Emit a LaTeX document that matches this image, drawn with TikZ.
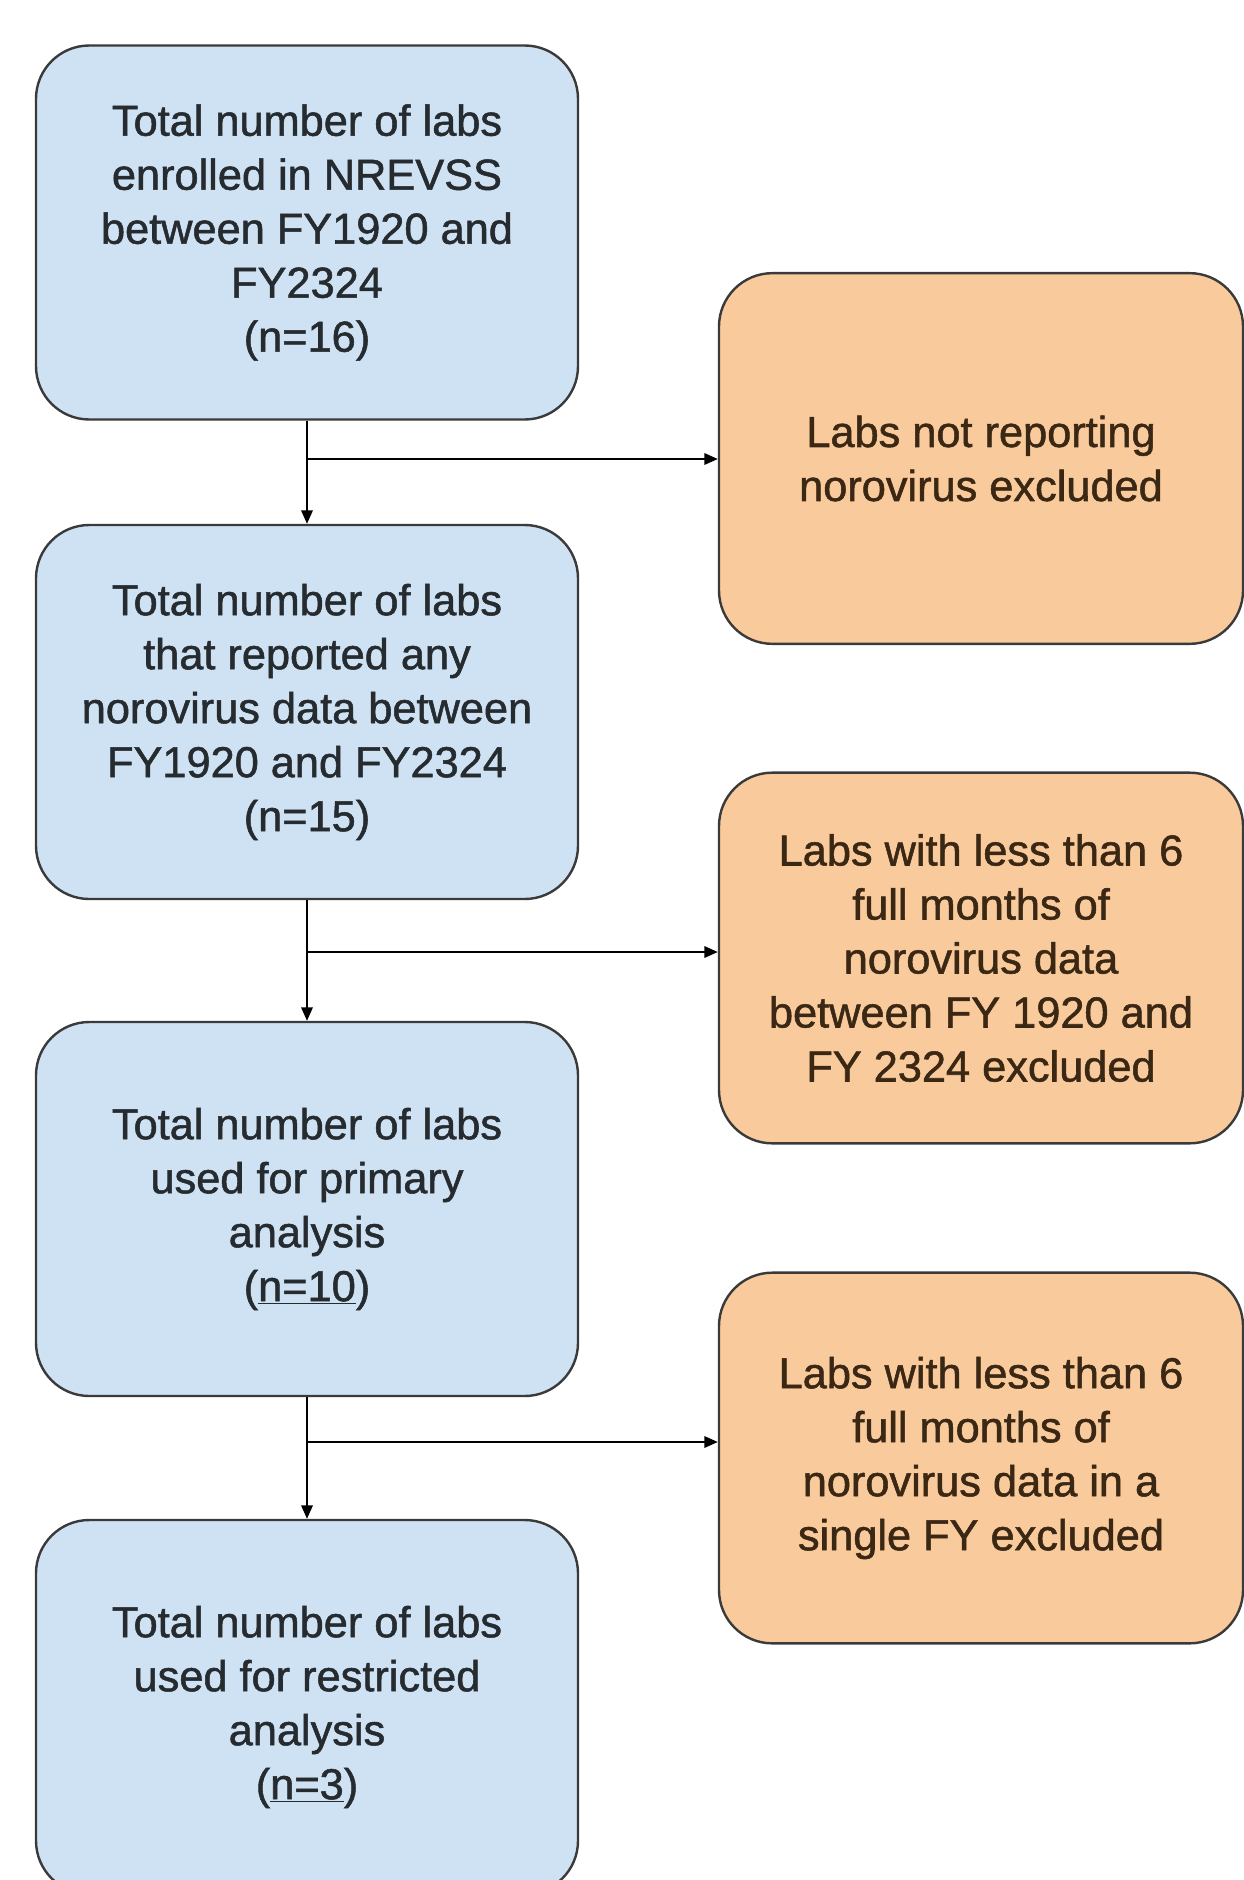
\documentclass[tikz,border=0pt]{standalone}
\usepackage{fontspec}
\setmainfont{Liberation Sans}[FakeBold=1.2]
\usetikzlibrary{arrows.meta}
\definecolor{bluefill}{HTML}{CFE2F3}
\definecolor{orangefill}{HTML}{F9CB9C}
\definecolor{edgecol}{HTML}{3A3A3A}
\definecolor{bluetext}{HTML}{262B30}
\definecolor{orangetext}{HTML}{3A2714}
\begin{document}
\begin{tikzpicture}[x=0.75pt,y=-0.75pt,
  boxbase/.style={draw=edgecol, line width=1.8pt, rounded corners=40pt, inner sep=0pt,
    align=center, font=\fontsize{32.5pt}{40.5pt}\selectfont},
  bluebox/.style={boxbase, fill=bluefill, text=bluetext, minimum width=406.5pt, minimum height=280.5pt},
  orangebox/.style={boxbase, fill=orangefill, text=orangetext, minimum width=393pt, minimum height=278pt},
  conn/.style={line width=1.5pt, draw=black, -{Triangle[length=10pt,width=8.5pt]}}
]
\useasboundingbox[fill=white] (0,0) rectangle (1244,1880);

\node[bluebox] (b1) at (307,232.5) {Total number of labs\\enrolled in NREVSS\\between FY1920 and\\FY2324\\(n=16)};
\node[bluebox] (b2) at (307,712) {Total number of labs\\that reported any\\norovirus data between\\FY1920 and FY2324\\(n=15)};
\node[bluebox] (b3) at (307,1209) {Total number of labs\\used for primary\\analysis\\(\underline{n=10})};
\node[bluebox] (b4) at (307,1707) {Total number of labs\\used for restricted\\analysis\\(\underline{n=3})};

\node[orangebox] (o1) at (981,458.5) {Labs not reporting\\norovirus excluded};
\node[orangebox] (o2) at (981,958) {Labs with less than 6\\full months of\\norovirus data\\between FY 1920 and\\FY 2324 excluded};
\node[orangebox] (o3) at (981,1458) {Labs with less than 6\\full months of\\norovirus data in a\\single FY excluded};

\draw[conn] (b1.south) -- (b2.north);
\draw[conn] (b2.south) -- (b3.north);
\draw[conn] (b3.south) -- (b4.north);

\coordinate (j1) at (307,459);
\coordinate (j2) at (307,952);
\coordinate (j3) at (307,1442);
\draw[conn] (j1) -- (j1 -| o1.west);
\draw[conn] (j2) -- (j2 -| o2.west);
\draw[conn] (j3) -- (j3 -| o3.west);
\end{tikzpicture}
\end{document}
